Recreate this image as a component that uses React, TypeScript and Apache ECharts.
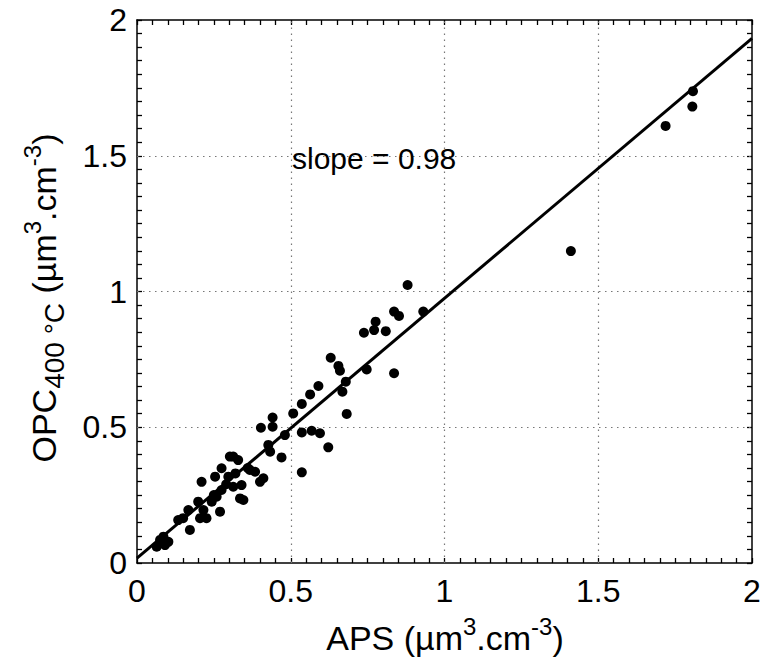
import React, { useEffect, useRef } from "react";
import * as echarts from "echarts";

// APS volume (x) and OPC 400 °C volume (y), µm³.cm⁻³
const apsValues = [
  1.808, 1.806, 1.719, 1.411,
  0.88, 0.836, 0.852, 0.931, 0.738, 0.776, 0.771, 0.809,
  0.63, 0.655, 0.66, 0.747, 0.836, 0.679, 0.668, 0.59, 0.563, 0.536,
  0.682, 0.536, 0.568, 0.595, 0.622, 0.536,
  0.508, 0.441, 0.441, 0.403, 0.481, 0.427, 0.433, 0.47, 0.411, 0.4,
  0.302, 0.329, 0.367, 0.21, 0.275, 0.254, 0.297, 0.34, 0.313, 0.275,
  0.335, 0.346, 0.259, 0.243, 0.27, 0.199, 0.216, 0.205, 0.226, 0.167,
  0.15, 0.134, 0.172, 0.086, 0.075, 0.091, 0.064, 0.102,
  0.25, 0.29, 0.32, 0.36, 0.384, 0.313,
];
const opcValues = [
  1.738, 1.681, 1.61, 1.149,
  1.024, 0.926, 0.91, 0.926, 0.848, 0.889, 0.858, 0.854,
  0.756, 0.726, 0.708, 0.713, 0.699, 0.668, 0.631, 0.652, 0.621, 0.586,
  0.549, 0.481, 0.487, 0.478, 0.426, 0.334,
  0.551, 0.536, 0.502, 0.498, 0.471, 0.435, 0.41, 0.389, 0.312, 0.299,
  0.392, 0.379, 0.343, 0.299, 0.349, 0.318, 0.318, 0.287, 0.281, 0.269,
  0.238, 0.232, 0.244, 0.226, 0.189, 0.226, 0.195, 0.165, 0.165, 0.195,
  0.165, 0.158, 0.122, 0.097, 0.085, 0.066, 0.06, 0.078,
  0.25, 0.29, 0.33, 0.35, 0.336, 0.392,
];

// fitted regression line end points
const fitX = [0, 2];
const fitY = [0.018, 1.932];

// inner dotted grid lines (major ticks)
const gridX = [0.5, 1, 1.5];
const gridY = [0.5, 1, 1.5];

const axisMin = 0;
const axisMax = 2;
const majorStep = 0.5;
const minorStep = 0.05;

const slopeText = "slope = 0.98";
const xTitleRich = "{m|APS (µm}{s|3}{m|.cm}{s|-3}{m|)}";
const yTitleRich = "{m|OPC}{b|400 °C}{m| (µm}{s|3}{m|.cm}{s|-3}{m|)}";

const FONT = "'Liberation Sans', Arial, Helvetica, sans-serif";
const TICK_LEN = 5;

function majorLabel(v: number): string {
  const r = v / majorStep;
  if (Math.abs(r - Math.round(r)) < 1e-6) {
    return String(Math.round(r) * majorStep);
  }
  return "";
}

function frameAxis(position: string, withLabels: boolean, margin: number) {
  return {
    type: "value",
    min: axisMin,
    max: axisMax,
    interval: minorStep,
    position,
    axisLine: { show: true, onZero: false, lineStyle: { color: "#000", width: 1.5 } },
    axisTick: { show: true, inside: true, length: TICK_LEN, lineStyle: { color: "#000", width: 1.3 } },
    splitLine: { show: false },
    axisLabel: withLabels
      ? { show: true, color: "#000", fontSize: 32, fontFamily: FONT, margin, formatter: majorLabel }
      : { show: false },
  };
}

export default function App() {
  const ref = useRef<HTMLDivElement>(null);

  useEffect(() => {
    if (!ref.current) return;
    const chart = echarts.init(ref.current, null, { renderer: "svg" });
    const points = apsValues.map((x, i) => [x, opcValues[i]]);
    const fitLine = fitX.map((x, i) => [x, fitY[i]]);

    const rich = {
      m: { fontSize: 34, fontFamily: FONT, fill: "#000", lineHeight: 48 },
      s: { fontSize: 24, fontFamily: FONT, fill: "#000", lineHeight: 24, verticalAlign: "top" },
      b: { fontSize: 28, fontFamily: FONT, fill: "#000", lineHeight: 28, verticalAlign: "bottom" },
    };

    chart.setOption({
      animation: false,
      backgroundColor: "#fff",
      grid: { left: 137, right: 13, top: 20, bottom: 99 },
      xAxis: [frameAxis("bottom", true, 12), frameAxis("top", false, 0)],
      yAxis: [frameAxis("left", true, 10), frameAxis("right", false, 0)],
      series: [
        {
          type: "scatter",
          xAxisIndex: 0,
          yAxisIndex: 0,
          data: points,
          symbol: "circle",
          symbolSize: 10,
          itemStyle: { color: "#000", opacity: 1 },
          z: 3,
          markLine: {
            silent: true,
            symbol: ["none", "none"],
            label: { show: false },
            lineStyle: { color: "#777", width: 1.2, type: [1.5, 4.5] },
            data: [
              ...gridX.map((v) => ({ xAxis: v })),
              ...gridY.map((v) => ({ yAxis: v })),
            ],
            z: 1,
          },
        },
        {
          type: "line",
          xAxisIndex: 0,
          yAxisIndex: 0,
          data: fitLine,
          showSymbol: false,
          symbol: "none",
          lineStyle: { color: "#000", width: 3 },
          z: 4,
        },
      ],
      graphic: [
        {
          type: "text",
          x: 292,
          y: 158,
          z: 10,
          style: {
            text: slopeText,
            fontSize: 30,
            fontFamily: FONT,
            fill: "#000",
            align: "left",
            verticalAlign: "middle",
          },
        },
        {
          type: "text",
          x: 445,
          y: 638,
          z: 10,
          style: {
            text: xTitleRich,
            rich,
            fill: "#000",
            align: "center",
            verticalAlign: "middle",
          },
        },
        {
          type: "text",
          x: 44,
          y: 298,
          rotation: Math.PI / 2,
          z: 10,
          style: {
            text: yTitleRich,
            rich,
            fill: "#000",
            align: "center",
            verticalAlign: "middle",
          },
        },
      ],
    });

    return () => chart.dispose();
  }, []);

  return (
    <div
      ref={ref}
      style={{ position: "absolute", left: 0, top: 0, width: 765, height: 662, background: "#fff" }}
    />
  );
}
